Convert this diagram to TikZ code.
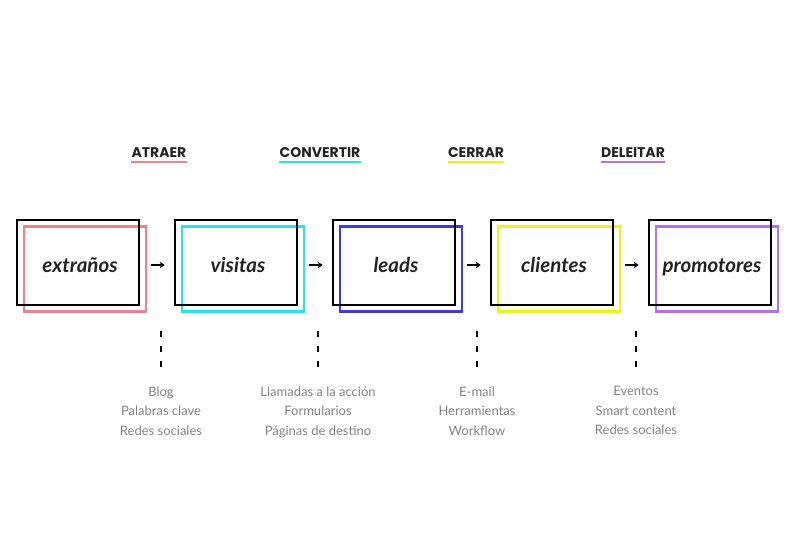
\documentclass[tikz,border=0pt]{standalone}
\usepackage{fontspec}
\setmainfont{Lato}
\newfontfamily\labfont{Poppins}
\usetikzlibrary{arrows.meta}
\definecolor{cpink}{RGB}{240,130,140}
\definecolor{ccyan}{RGB}{40,228,232}
\definecolor{cblue}{RGB}{60,60,220}
\definecolor{cyell}{RGB}{242,240,20}
\definecolor{cpurp}{RGB}{180,110,240}
\definecolor{cgray}{RGB}{130,130,130}
\definecolor{cdark}{RGB}{35,35,35}
\tikzset{
  blackbox/.style={draw=black, line width=2.6pt, minimum width=122pt, minimum height=85pt, inner sep=0pt},
  colbox/.style={draw=#1, line width=2.6pt, minimum width=122pt, minimum height=85pt, inner sep=0pt},
  boxtext/.style={font=\fontsize{20.5}{24}\selectfont\bfseries\itshape, text=cdark, anchor=base},
  stagelab/.style={font=\labfont\fontsize{14}{16}\selectfont\bfseries, text=cdark, inner sep=0pt, anchor=base},
  uline/.style={line width=2.4pt, draw=#1},
  flow/.style={-{Stealth[length=5pt,width=6.5pt]}, line width=1.6pt, black},
  dotted3/.style={line width=2.2pt, dash pattern=on 6pt off 9pt, black},
  items/.style={font=\fontsize{13}{19.5}\selectfont, text=cgray, align=center}
}
\begin{document}
\begin{tikzpicture}[x=1pt,y=-1pt]
\useasboundingbox (0,0) rectangle (800,533);
% boxes
\foreach \i/\cx/\col/\txt in {1/78/cpink/extraños,2/236/ccyan/visitas,3/394/cblue/leads,4/552/cyell/clientes,5/710/cpurp/promotores}{
  \node[colbox=\col] (c\i) at (\cx+7,269) {};
  \node[blackbox] (b\i) at (\cx,262.5) {};
  \node[boxtext] (t\i) at (\cx+2,272) {\txt};
}
% arrows
\foreach \i/\j in {1/2,2/3,3/4,4/5}{
  \coordinate (as\i) at ([xshift=4pt]c\i.east |- 0,265);
  \coordinate (ae\i) at ([xshift=-9pt]b\j.west |- 0,265);
  \draw[flow] (as\i) -- (ae\i);
}
% stage labels
\node[stagelab] (l1) at (159,157) {ATRAER};
\node[stagelab] (l2) at (320,157) {CONVERTIR};
\node[stagelab] (l3) at (476,157) {CERRAR};
\node[stagelab] (l4) at (633,157) {DELEITAR};
\foreach \i/\col in {1/cpink,2/ccyan,3/cyell,4/cpurp}{
  \draw[uline=\col] ([yshift=-5pt]l\i.base west) -- ([yshift=-5pt]l\i.base east);
}
% dashed lines and items
\foreach \i/\x in {1/161,2/318,3/477,4/636}{
  \coordinate (ds\i) at (\x,331);
  \coordinate (de\i) at (\x,368);
  \draw[dotted3] (ds\i) -- (de\i);
}
\node[items, anchor=north] (i1) at (161,383) {Blog\\Palabras clave\\Redes sociales};
\node[items, anchor=north] (i2) at (318,383) {Llamadas a la acción\\Formularios\\Páginas de destino};
\node[items, anchor=north] (i3) at (477,383) {E-mail\\Herramientas\\Workflow};
\node[items, anchor=north] (i4) at (636,383) {Eventos\\Smart content\\Redes sociales};
\end{tikzpicture}
\end{document}
